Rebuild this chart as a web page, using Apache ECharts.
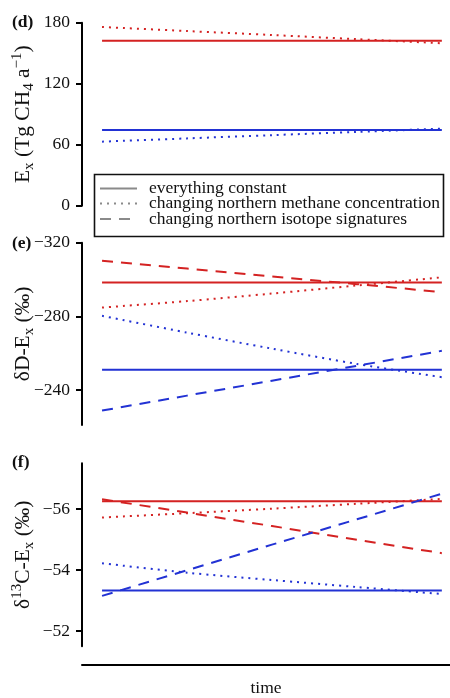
<!DOCTYPE html>
<html><head><meta charset="utf-8">
<script src="https://cdn.jsdelivr.net/npm/echarts@6/dist/echarts.min.js"></script>
<style>html,body{margin:0;padding:0;background:#fff}#c{width:450px;height:698px}</style>
</head><body><div id="c"></div>
<script>
// ---- data ----
const time = [0, 25, 50, 75, 100];
// panel (d) E_x
const dRedConst = [162.3, 162.3, 162.3, 162.3, 162.3];
const dRedConc = [175.8, 171.8, 167.9, 163.8, 159.8];
const dBlueConst = [74.5, 74.5, 74.5, 74.5, 74.5];
const dBlueConc = [63.0, 66.2, 69.4, 72.6, 75.8];
// panel (e) dD-E_x
const eRedConst = [-298.4, -298.4, -298.4, -298.4, -298.4];
const eRedConc = [-284.8, -288.3, -292.4, -296.8, -301.2];
const eRedIso = [-310.2, -306.0, -301.7, -297.5, -293.2];
const eBlueConst = [-251.0, -251.0, -251.0, -251.0, -251.0];
const eBlueConc = [-280.3, -271.2, -262.5, -254.2, -247.0];
const eBlueIso = [-228.9, -237.0, -245.1, -253.2, -261.3];
// panel (f) d13C-E_x
const fRedConst = [-56.25, -56.25, -56.25, -56.25, -56.25];
const fRedConc = [-55.72, -55.86, -56.01, -56.17, -56.33];
const fRedIso = [-56.32, -55.88, -55.44, -54.99, -54.55];
const fBlueConst = [-53.33, -53.33, -53.33, -53.33, -53.33];
const fBlueConc = [-54.22, -53.91, -53.67, -53.44, -53.21];
const fBlueIso = [-53.15, -53.99, -54.83, -55.66, -56.50];
// ticks
const dTicks = [0, 60, 120, 180];
const eTicks = [-320, -280, -240];
const fTicks = [-56, -54, -52];
const legendLabels = ['everything constant', 'changing northern methane concentration', 'changing northern isotope signatures'];
const panelLabels = ['(d)', '(e)', '(f)'];

// ---- styling ----
const RED = '#d42222', BLUE = '#2232d4';
const FONT = 'Liberation Serif';
const FS = 17.5;
const NFS = 21.5;
const DOT = [2, 5], DASH = [11, 8];

const chart = echarts.init(document.getElementById('c'), null, {renderer: 'canvas'});
const fmt = v => (v < 0 ? '\u2212' : '') + Math.abs(v);
const rich = {
  n: {fontFamily: FONT, fontSize: NFS, lineHeight: 27, color: '#111', verticalAlign: 'middle'},
  s: {fontFamily: FONT, fontSize: 15, lineHeight: 15, color: '#111', verticalAlign: 'bottom'},
  p: {fontFamily: FONT, fontSize: 15, lineHeight: 15, color: '#111', verticalAlign: 'top'}
};
function yAxis(gi, min, max, ticks, inverse, name) {
  return {
    type: 'value', gridIndex: gi, min: min, max: max, inverse: inverse,
    name: name, nameLocation: 'middle', nameRotate: 90, nameGap: 45, nameMoveOverlap: false,
    nameTextStyle: {fontFamily: FONT, fontSize: NFS, color: '#111', rich: rich},
    axisLine: {show: true, onZero: false, lineStyle: {color: '#000', width: 2}},
    axisTick: {show: true, length: 6, lineStyle: {color: '#000', width: 2}, customValues: ticks},
    axisLabel: {show: true, margin: 12, fontFamily: FONT, fontSize: FS, color: '#111', formatter: fmt, customValues: ticks},
    splitLine: {show: false}
  };
}
function xAxis(gi, show) {
  return {
    type: 'value', gridIndex: gi, min: -5.9, max: 102.4, show: show,
    offset: show ? 19 : 0,
    name: show ? 'time' : '', nameLocation: 'middle', nameGap: 14, nameMoveOverlap: false,
    nameTextStyle: {fontFamily: FONT, fontSize: FS, color: '#111'},
    axisLine: {show: show, onZero: false, lineStyle: {color: '#000', width: 2}},
    axisTick: {show: false}, axisLabel: {show: false}, splitLine: {show: false}
  };
}
function line(xi, vals, color, type, smooth) {
  return {
    type: 'line', xAxisIndex: xi, yAxisIndex: xi, symbol: 'none', silent: true,
    smooth: smooth ? 0.3 : false,
    data: time.map((t, i) => [t, vals[i]]),
    lineStyle: {color: color, width: 2, type: type, cap: 'butt'}
  };
}
const graphic = [];
const legY = [188.5, 203.5, 219];
graphic.push({type: 'rect', shape: {x: 94.5, y: 174.5, width: 349, height: 62}, style: {fill: '#fff', stroke: '#111', lineWidth: 1.6}, z: 10});
const legDash = ['solid', DOT, DASH];
legendLabels.forEach((t, i) => {
  graphic.push({type: 'line', shape: {x1: 100, y1: legY[i], x2: 137, y2: legY[i]}, style: {stroke: '#8a8a8a', lineWidth: 2, lineDash: legDash[i] === 'solid' ? null : legDash[i]}, z: 11});
  graphic.push({type: 'text', x: 149, y: legY[i], style: {text: t, fontFamily: FONT, fontSize: FS, fill: '#111', verticalAlign: 'middle'}, z: 11});
});
const panelY = [22, 243, 462];
panelLabels.forEach((t, i) => {
  graphic.push({type: 'text', x: 12, y: panelY[i], style: {text: t, fontFamily: FONT, fontSize: FS, fontWeight: 'bold', fill: '#111', verticalAlign: 'middle'}, z: 11});
});

const gridBase = {left: 82, width: 368, containLabel: false, outerBoundsMode: 'none'};
chart.setOption({
  animation: false,
  backgroundColor: '#fff',
  grid: [
    Object.assign({top: 22.7, height: 183}, gridBase),
    Object.assign({top: 242.7, height: 182.4}, gridBase),
    Object.assign({top: 463.2, height: 183}, gridBase)
  ],
  xAxis: [xAxis(0, false), xAxis(1, false), xAxis(2, true)],
  yAxis: [
    yAxis(0, 0, 180, dTicks, false, '{n|E}{s|x}{n| (Tg CH}{s|4}{n| a}{p|\u22121}{n|)}'),
    yAxis(1, -320, -221, eTicks, true, '{n|\u03b4D-E}{s|x}{n| (\u2030)}'),
    yAxis(2, -57.5, -51.5, fTicks, true, '{n|\u03b4}{p|13}{n|C-E}{s|x}{n| (\u2030)}')
  ],
  series: [
    line(0, dRedConst, RED, 'solid'),
    line(0, dRedConc, RED, DOT, true),
    line(0, dBlueConst, BLUE, 'solid'),
    line(0, dBlueConc, BLUE, DOT, true),
    line(1, eRedConst, RED, 'solid'),
    line(1, eRedConc, RED, DOT, true),
    line(1, eRedIso, RED, DASH),
    line(1, eBlueConst, BLUE, 'solid'),
    line(1, eBlueConc, BLUE, DOT, true),
    line(1, eBlueIso, BLUE, DASH),
    line(2, fRedConst, RED, 'solid'),
    line(2, fRedConc, RED, DOT, true),
    line(2, fRedIso, RED, DASH),
    line(2, fBlueConst, BLUE, 'solid'),
    line(2, fBlueConc, BLUE, DOT, true),
    line(2, fBlueIso, BLUE, DASH)
  ],
  graphic: graphic
});
</script>
</body></html>
